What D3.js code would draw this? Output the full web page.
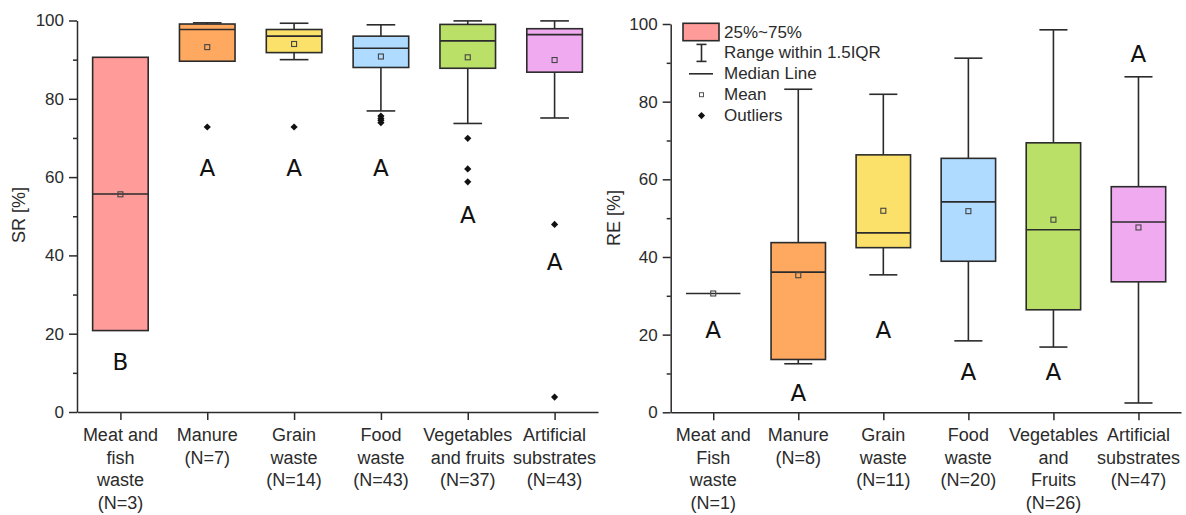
<!DOCTYPE html>
<html>
<head>
<meta charset="utf-8">
<script src="https://cdn.jsdelivr.net/npm/d3@7"></script>
<style>
  html, body { margin: 0; padding: 0; background: #fff; }
  svg { display: block; font-family: "Liberation Sans", Arial, sans-serif; }
</style>
</head>
<body>
<svg id="chart" width="1186" height="515"></svg>
<script>
// ---- data ----
const colors = ["#FF9B98", "#FFA960", "#FBE06A", "#AEDBFF", "#BAE067", "#F0ABF0"];

// SR [%] panel
const srLabels = [
  ["Meat and", "fish", "waste", "(N=3)"],
  ["Manure", "(N=7)"],
  ["Grain", "waste", "(N=14)"],
  ["Food", "waste", "(N=43)"],
  ["Vegetables", "and fruits", "(N=37)"],
  ["Artificial", "substrates", "(N=43)"]
];
const srQ1      = [20.8, 89.6, 91.8, 88.0, 87.8, 86.8];
const srMedian  = [55.7, 97.7, 96.0, 92.9, 94.8, 96.4];
const srQ3      = [90.6, 99.1, 97.7, 96.0, 99.0, 97.9];
const srLow     = [20.8, 89.6, 90.0, 76.9, 73.7, 75.1];
const srHigh    = [90.6, 99.4, 99.3, 98.9, 99.9, 99.9];
const srMean    = [55.6, 93.2, 94.0, 90.8, 90.6, 89.9];
const srOutliers = [[], [72.8], [72.8], [75.6, 75.0, 74.5, 73.9], [69.9, 62.1, 58.8], [47.9, 3.8]];
const srLetters = ["B", "A", "A", "A", "A", "A"];
const srLetterAt = [12.8, 62.3, 62.3, 62.3, 50.3, 38.4];

// RE [%] panel
const reLabels = [
  ["Meat and", "Fish", "waste", "(N=1)"],
  ["Manure", "(N=8)"],
  ["Grain", "waste", "(N=11)"],
  ["Food", "waste", "(N=20)"],
  ["Vegetables", "and", "Fruits", "(N=26)"],
  ["Artificial", "substrates", "(N=47)"]
];
const reQ1      = [30.6, 13.6, 42.4, 38.9, 26.4, 33.6];
const reMedian  = [30.6, 36.1, 46.2, 54.2, 47.0, 49.0];
const reQ3      = [30.6, 43.7, 66.3, 65.4, 69.4, 58.1];
const reLow     = [30.6, 12.5, 35.4, 18.4, 16.8, 2.4];
const reHigh    = [30.6, 83.2, 81.9, 91.2, 98.5, 86.4];
const reMean    = [30.6, 35.3, 51.9, 51.8, 49.6, 47.6];
const reOutliers = [[], [], [], [], [], []];
const reLetters = ["A", "A", "A", "A", "A", "A"];
const reLetterAt = [21.1, 4.9, 21.1, 10.5, 10.5, 92.3];

const yTicks = [0, 20, 40, 60, 80, 100];
const yMinorTicks = [10, 30, 50, 70, 90];

const legendItems = ["25%~75%", "Range within 1.5IQR", "Median Line", "Mean", "Outliers"];

// ---- drawing ----
const svg = d3.select("#chart");
const ink = "#2b2b2b";

function panel(cfg) {
  const g = svg.append("g");
  const n = cfg.labels.length;
  const x = d3.scaleLinear().domain([0.5, n + 0.5]).range([cfg.left, cfg.right]);
  const y = d3.scaleLinear().domain([0, 100]).range([cfg.bottom, cfg.top]);
  const step = x(2) - x(1);
  const boxW = step * 0.64;
  const capW = step * 0.33;

  // y axis: major ticks with labels, minor ticks without
  const yAxis = g.append("g").attr("transform", `translate(${cfg.left},0)`)
    .call(d3.axisLeft(y).tickValues(yTicks).tickSize(8).tickPadding(5).tickSizeOuter(0));
  yAxis.append("g").call(d3.axisLeft(y).tickValues(yMinorTicks).tickSize(4).tickFormat("").tickSizeOuter(0))
    .select(".domain").remove();
  yAxis.selectAll("text").attr("font-size", 17).attr("fill", ink)
    .attr("font-family", '"Liberation Sans", Arial, sans-serif');

  // x axis at y = 0
  const xAxis = g.append("g").attr("transform", `translate(0,${cfg.bottom})`)
    .call(d3.axisBottom(x).tickValues(d3.range(1, n + 1)).tickSize(8).tickFormat("").tickSizeOuter(0));
  g.selectAll(".domain, .tick line").attr("stroke", ink).attr("stroke-width", 1.5);

  // multi-line category labels
  cfg.labels.forEach((lines, i) => {
    const t = g.append("text").attr("text-anchor", "middle").attr("font-size", 18).attr("fill", ink);
    lines.forEach((s, k) => {
      t.append("tspan").attr("x", x(i + 1)).attr("y", cfg.bottom + 29 + k * 22.5).text(s);
    });
  });

  // axis title
  g.append("text")
    .attr("transform", `translate(${cfg.titleX},${cfg.titleY}) rotate(-90)`)
    .attr("text-anchor", "middle").attr("dominant-baseline", "central")
    .attr("font-size", 18).attr("fill", ink).text(cfg.title);

  // boxes
  d3.range(n).forEach(i => {
    const cx = x(i + 1);
    const bg = g.append("g");
    // whiskers
    if (cfg.high[i] > cfg.q3[i]) {
      bg.append("line").attr("x1", cx).attr("x2", cx).attr("y1", y(cfg.q3[i])).attr("y2", y(cfg.high[i]));
      bg.append("line").attr("x1", cx - capW / 2).attr("x2", cx + capW / 2).attr("y1", y(cfg.high[i])).attr("y2", y(cfg.high[i]));
    }
    if (cfg.low[i] < cfg.q1[i]) {
      bg.append("line").attr("x1", cx).attr("x2", cx).attr("y1", y(cfg.q1[i])).attr("y2", y(cfg.low[i]));
      bg.append("line").attr("x1", cx - capW / 2).attr("x2", cx + capW / 2).attr("y1", y(cfg.low[i])).attr("y2", y(cfg.low[i]));
    }
    bg.selectAll("line").attr("stroke", ink).attr("stroke-width", 1.6);
    // interquartile box
    bg.append("rect")
      .attr("x", cx - boxW / 2).attr("width", boxW)
      .attr("y", y(cfg.q3[i])).attr("height", Math.max(0, y(cfg.q1[i]) - y(cfg.q3[i])))
      .attr("fill", colors[i]).attr("stroke", ink).attr("stroke-width", 1.6);
    // median
    bg.append("line").attr("x1", cx - boxW / 2).attr("x2", cx + boxW / 2)
      .attr("y1", y(cfg.median[i])).attr("y2", y(cfg.median[i]))
      .attr("stroke", ink).attr("stroke-width", 1.6);
    // mean
    bg.append("rect").attr("x", cx - 2.5).attr("y", y(cfg.mean[i]) - 2.5).attr("width", 5).attr("height", 5)
      .attr("fill", "none").attr("stroke", "#444").attr("stroke-width", 1.1);
    // outliers
    bg.selectAll("path.out").data(cfg.outliers[i]).join("path").attr("class", "out")
      .attr("d", "M0,-3.6L3.6,0L0,3.6L-3.6,0Z")
      .attr("transform", v => `translate(${cx},${y(v)})`)
      .attr("fill", "#111");
    // significance letter
    g.append("text").attr("x", cx).attr("y", y(cfg.letterAt[i]))
      .attr("text-anchor", "middle").attr("dominant-baseline", "central")
      .attr("font-size", 23).attr("fill", "#111").attr("font-family", '"DejaVu Sans", "Liberation Sans", sans-serif')
      .text(cfg.letters[i]);
  });
  return { g, x, y };
}

panel({
  left: 77, right: 598, top: 20.5, bottom: 412,
  labels: srLabels, q1: srQ1, median: srMedian, q3: srQ3, low: srLow, high: srHigh,
  mean: srMean, outliers: srOutliers, letters: srLetters, letterAt: srLetterAt,
  title: "SR [%]", titleX: 19, titleY: 215
});

const re = panel({
  left: 670.7, right: 1181, top: 24, bottom: 412.3,
  labels: reLabels, q1: reQ1, median: reMedian, q3: reQ3, low: reLow, high: reHigh,
  mean: reMean, outliers: reOutliers, letters: reLetters, letterAt: reLetterAt,
  title: "RE [%]", titleX: 613.7, titleY: 218
});

// legend
const lg = svg.append("g").attr("transform", "translate(683,32)");
const rowH = 20.9;
const symX = 18.5;
lg.append("rect").attr("x", 0).attr("y", -8.7).attr("width", 36).attr("height", 17.4)
  .attr("fill", colors[0]).attr("stroke", ink).attr("stroke-width", 1.6);
// whisker glyph
const w = lg.append("g").attr("transform", `translate(${symX},${rowH})`).attr("stroke", ink).attr("stroke-width", 1.6);
w.append("line").attr("x1", 0).attr("x2", 0).attr("y1", -8.5).attr("y2", 8.5);
w.append("line").attr("x1", -5).attr("x2", 5).attr("y1", -8.5).attr("y2", -8.5);
w.append("line").attr("x1", -5).attr("x2", 5).attr("y1", 8.5).attr("y2", 8.5);
// median glyph
lg.append("line").attr("x1", 6).attr("x2", 30).attr("y1", rowH * 2).attr("y2", rowH * 2)
  .attr("stroke", ink).attr("stroke-width", 1.6);
// mean glyph
lg.append("rect").attr("x", symX - 2).attr("y", rowH * 3 - 2).attr("width", 4).attr("height", 4)
  .attr("fill", "none").attr("stroke", "#555").attr("stroke-width", 1);
// outlier glyph
lg.append("path").attr("d", "M0,-3.6L3.6,0L0,3.6L-3.6,0Z")
  .attr("transform", `translate(${symX},${rowH * 4})`).attr("fill", "#111");
lg.selectAll("text.lbl").data(legendItems).join("text").attr("class", "lbl")
  .attr("x", 41).attr("y", (d, i) => i * rowH).attr("dominant-baseline", "central")
  .attr("font-size", 17).attr("fill", ink).text(d => d);
</script>
</body>
</html>
